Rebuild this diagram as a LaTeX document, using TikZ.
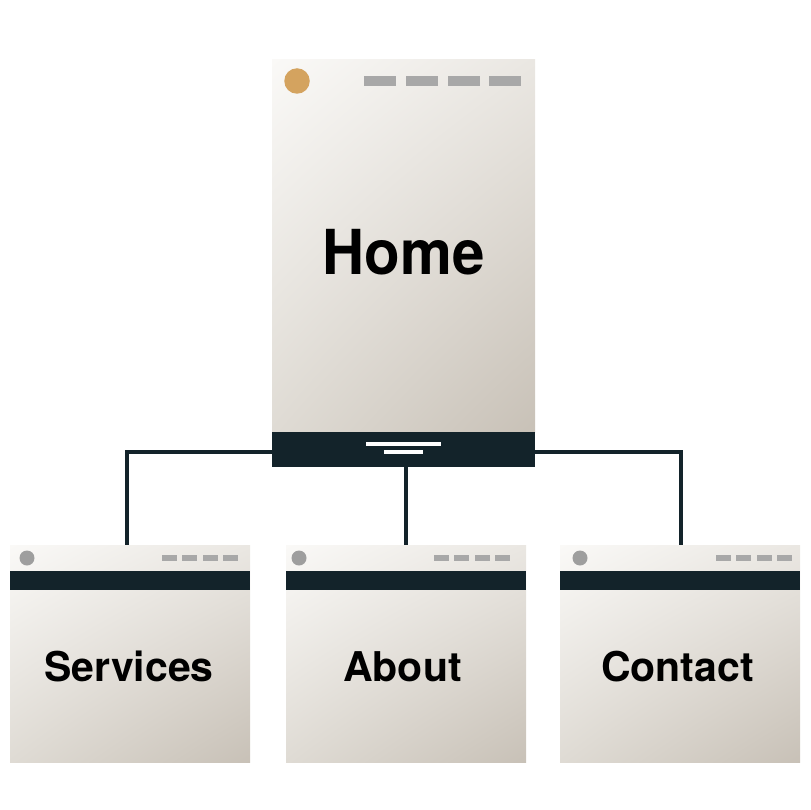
\documentclass[tikz,border=0pt]{standalone}
\usepackage{fontspec}
\setmainfont{TeX Gyre Heros}
\newfontfamily\hometitlefont[FakeStretch=0.94]{TeX Gyre Heros}
\usetikzlibrary{shadings}
\definecolor{ink}{HTML}{13232A}
\definecolor{pgUL}{HTML}{FAF9F7}
\definecolor{pgUR}{HTML}{EAE7E2}
\definecolor{pgLL}{HTML}{DFDBD4}
\definecolor{pgLR}{HTML}{C8C1B7}
\definecolor{dotorange}{HTML}{D4A35F}
\definecolor{dashgray}{HTML}{A8A8A8}
\definecolor{dotgray}{HTML}{9E9E9E}
\begin{document}
\begin{tikzpicture}[x=1pt,y=-1pt,
  pagebody/.style={shade, upper left=pgUL, upper right=pgUR, lower left=pgLL, lower right=pgLR,
    draw=none, inner sep=0pt, outer sep=0pt, minimum width=#1},
  darkbar/.style={fill=ink, draw=none, inner sep=0pt, outer sep=0pt, minimum width=#1},
  dashbig/.style={fill=dashgray, draw=none, inner sep=0pt, minimum width=32pt, minimum height=10pt},
  dashsmall/.style={fill=dashgray, draw=none, inner sep=0pt, minimum width=15pt, minimum height=5.5pt},
  dotsmall/.style={circle, fill=dotgray, draw=none, inner sep=0pt, minimum size=15pt},
  dotbig/.style={circle, fill=dotorange, draw=none, inner sep=0pt, minimum size=25.5pt},
  whiteline/.style={fill=white, draw=none, inner sep=0pt, minimum height=4pt},
  bigtitle/.style={font=\hometitlefont\fontsize{62}{62}\selectfont\bfseries, anchor=base, inner sep=0pt},
  smalltitle/.style={font=\fontsize{41}{41}\selectfont\bfseries, anchor=base, inner sep=0pt},
  link/.style={draw=ink, line width=4pt}]
\useasboundingbox (0,0) rectangle (810,810);
% Home page
\node[pagebody=263pt, minimum height=372pt] (home) at (403.5,246) {};
\node[darkbar=263pt, minimum height=35pt] (homebar) at (403.5,449.5) {};
\node[dotbig] (homedot) at (297,81) {};
\node[dashbig] (hd1) at (380,81) {};
\node[dashbig] (hd2) at (422,81) {};
\node[dashbig] (hd3) at (463.5,81) {};
\node[dashbig] (hd4) at (505,81) {};
\node[whiteline, minimum width=75pt] (wl1) at (403.5,444) {};
\node[whiteline, minimum width=39pt] (wl2) at (403.5,452) {};
\node[bigtitle] (hometxt) at (403.5,274) {Home};
% Child pages
\foreach \n/\cx/\dx/\sx/\tx/\t in {services/130/27/162/129/Services, about/406/299/434/402.5/About, contact/680/580/716/677.5/Contact}{
  \node[pagebody=240pt, minimum height=217pt] (\n) at (\cx,653.5) {};
  \node[darkbar=240pt, minimum height=19pt] (\n bar) at (\cx,580.5) {};
  \node[dotsmall] (\n dot) at (\dx,558) {};
  \node[dashsmall] (\n d1) at (\sx+7.5,558) {};
  \node[dashsmall] (\n d2) at (\sx+27.8,558) {};
  \node[dashsmall] (\n d3) at (\sx+48.1,558) {};
  \node[dashsmall] (\n d4) at (\sx+68.4,558) {};
  \node[smalltitle] (\n txt) at (\tx,681) {\t};
}
% Connectors
\draw[link] ([yshift=-2.5pt]homebar.west) -| ([xshift=-3pt]services.north);
\draw[link] (homebar.south -| about.north) -- (about.north);
\draw[link] ([yshift=-2.5pt]homebar.east) -| ([xshift=1pt]contact.north);
\end{tikzpicture}
\end{document}
